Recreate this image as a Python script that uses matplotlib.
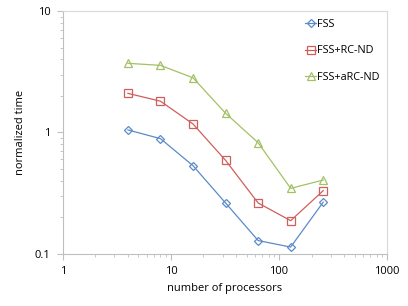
#!/usr/bin/env python3
"""Normalized time vs number of processors (log-log)."""

import matplotlib

matplotlib.use("Agg")
import matplotlib.pyplot as plt
from matplotlib.ticker import FixedLocator, LogLocator, NullFormatter

processors = [4, 8, 16, 32, 64, 128, 256]
fss = [1.05, 0.89, 0.533, 0.263, 0.129, 0.114, 0.267]
fss_rc_nd = [2.10, 1.81, 1.175, 0.59, 0.263, 0.188, 0.332]
fss_arc_nd = [3.71, 3.57, 2.82, 1.44, 0.824, 0.347, 0.406]

series = [
    ("FSS", fss, "#5B8BC9", "D", 4.5),
    ("FSS+RC-ND", fss_rc_nd, "#CF5F5C", "s", 6),
    ("FSS+aRC-ND", fss_arc_nd, "#A3C165", "^", 6),
]

plt.rcParams["font.family"] = ["Open Sans", "DejaVu Sans"]

fig = plt.figure(figsize=(4.08, 3.06), dpi=100)
ax = fig.add_axes([0.154, 0.170, 0.795, 0.794])

for name, values, color, marker, size in series:
    ax.plot(processors, values, color=color, linewidth=0.9, marker=marker,
            markersize=size, markerfacecolor="none", markeredgecolor=color,
            markeredgewidth=0.9, label=name)

ax.set_xscale("log")
ax.set_yscale("log")
ax.set_xlim(1, 1000)
ax.set_ylim(0.1, 10)

ax.xaxis.set_major_locator(FixedLocator([1, 10, 100, 1000]))
ax.yaxis.set_major_locator(FixedLocator([0.1, 1, 10]))
ax.set_xticklabels(["1", "10", "100", "1000"])
ax.set_yticklabels(["0.1", "1", "10"])
ax.xaxis.set_minor_locator(LogLocator(base=10, subs=range(2, 10)))
ax.yaxis.set_minor_locator(LogLocator(base=10, subs=range(2, 10)))
ax.xaxis.set_minor_formatter(NullFormatter())
ax.yaxis.set_minor_formatter(NullFormatter())

for spine in ax.spines.values():
    spine.set_color("#D9D9D9")
    spine.set_linewidth(0.8)
ax.spines["left"].set_color("#BFBFBF")
ax.spines["bottom"].set_color("#BFBFBF")

ax.tick_params(axis="both", which="major", direction="out", length=4,
               color="#BFBFBF", labelsize=8, pad=5)
ax.tick_params(axis="both", which="minor", direction="out", length=2.5,
               color="#BFBFBF")

ax.set_xlabel("number of processors", fontsize=8, labelpad=4)
ax.set_ylabel("normalized time", fontsize=8, labelpad=6)

ax.legend(loc="upper right", bbox_to_anchor=(1.0, 1.0), frameon=False,
          fontsize=7.8, handlelength=1.0, handletextpad=0.1,
          labelspacing=1.45, borderaxespad=0.3)

fig.savefig("out.png", dpi=100)
